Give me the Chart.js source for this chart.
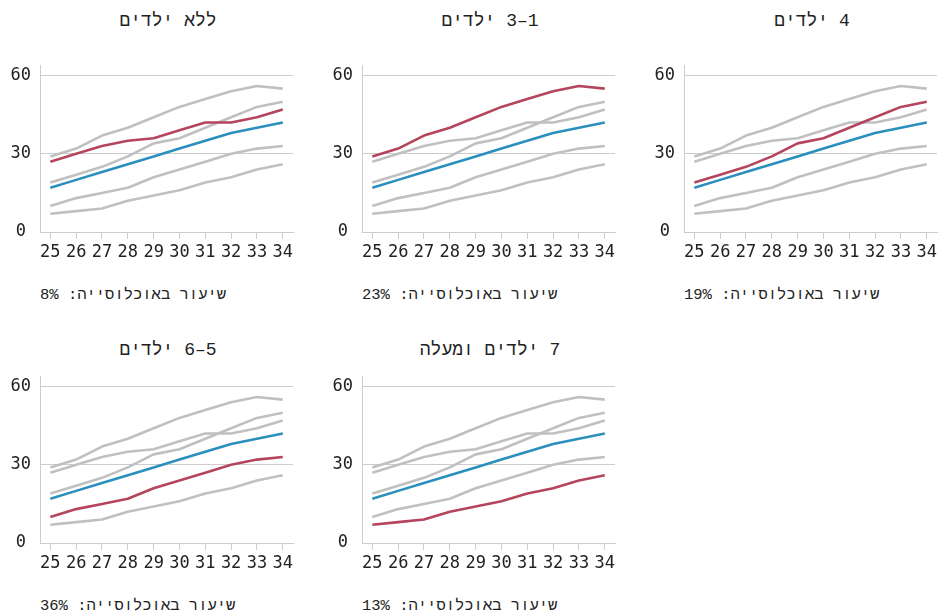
<!DOCTYPE html>
<html lang="he">
<head>
<meta charset="utf-8">
<script src="https://cdn.jsdelivr.net/npm/chart.js@4"></script>
<style>
  body { margin: 0; background: #fff; width: 943px; height: 612px; position: relative; overflow: hidden;
         font-family: 'Liberation Mono', monospace; color: #222; }
  .panel-title { position: absolute; width: 256px; text-align: center; font-size: 18px; line-height: 22px; direction: rtl; }
  .panel-foot { position: absolute; font-size: 15.5px; line-height: 20px; direction: rtl; white-space: nowrap; }
  .panel-canvas { position: absolute; }
</style>
</head>
<body>
<script>
// x axis: age
const years = [25, 26, 27, 28, 29, 30, 31, 32, 33, 34];
const yTicks = [0, 30, 60];

// groups by number of children
const groupTitles = ['ללא ילדים', '1–3 ילדים', '4 ילדים', '5–6 ילדים', '7 ילדים ומעלה'];
const groupShares = ['8%', '23%', '19%', '36%', '13%'];

const noKids = [27, 30, 33, 35, 36, 39, 42, 42, 44, 47];
const kids1to3 = [29, 32, 37, 40, 44, 48, 51, 54, 56, 55];
const kids4 = [19, 22, 25, 29, 34, 36, 40, 44, 48, 50];
const kids5to6 = [10, 13, 15, 17, 21, 24, 27, 30, 32, 33];
const kids7plus = [7, 8, 9, 12, 14, 16, 19, 21, 24, 26];
const average = [17, 20, 23, 26, 29, 32, 35, 38, 40, 42];

const groupSeries = [noKids, kids1to3, kids4, kids5to6, kids7plus];

// layout of the small multiples (left edge of plot area, top of plot area)
const panelPos = [
    { x: 40, top: 64 },
    { x: 362, top: 64 },
    { x: 684, top: 64 },
    { x: 40, top: 375 },
    { x: 362, top: 375 }
];

const RED = '#b5455c';
const BLUE = '#2a8fbd';
const GREY = '#c0c0c0';
const TICK_FONT = "'DejaVu Sans Mono', monospace";

function toPoints(arr) {
    return arr.map((v, i) => ({ x: years[i], y: v }));
}

function makePanel(idx) {
    const pos = panelPos[idx];

    const title = document.createElement('div');
    title.className = 'panel-title';
    title.textContent = groupTitles[idx];
    title.style.left = pos.x + 'px';
    title.style.top = (pos.top - (idx < 3 ? 54 : 36)) + 'px';
    document.body.appendChild(title);

    const foot = document.createElement('div');
    foot.className = 'panel-foot';
    foot.textContent = 'שיעור באוכלוסייה: ' + groupShares[idx];
    foot.style.left = pos.x + 'px';
    foot.style.top = (pos.top + 221) + 'px';
    document.body.appendChild(foot);

    // chart.js keeps ~18px above the plot area, so the canvas starts higher
    const wrap = document.createElement('div');
    wrap.className = 'panel-canvas';
    wrap.style.left = (pos.x - 40) + 'px';
    wrap.style.top = (pos.top - 18) + 'px';
    wrap.style.width = '296px';
    wrap.style.height = '218px';
    const canvas = document.createElement('canvas');
    wrap.appendChild(canvas);
    document.body.appendChild(wrap);

    const datasets = [];
    datasets.push({ data: toPoints(groupSeries[idx]), borderColor: RED, order: 0 });
    datasets.push({ data: toPoints(average), borderColor: BLUE, order: 1 });
    groupSeries.forEach((s, j) => {
        if (j !== idx) datasets.push({ data: toPoints(s), borderColor: GREY, order: 2 });
    });
    datasets.forEach(d => {
        d.borderWidth = 2.6;
        d.pointRadius = 0;
        d.fill = false;
        d.tension = 0;
        d.borderJoinStyle = 'round';
    });

    new Chart(canvas, {
        type: 'line',
        data: { datasets },
        options: {
            responsive: true,
            maintainAspectRatio: false,
            animation: false,
            layout: { padding: 0 },
            plugins: { legend: { display: false }, tooltip: { enabled: false } },
            scales: {
                x: {
                    type: 'linear',
                    min: 24.6,
                    max: 34.4,
                    afterBuildTicks: scale => { scale.ticks = years.map(v => ({ value: v })); },
                    afterFit: scale => { scale.height = 32; },
                    grid: { drawOnChartArea: false, drawTicks: true, tickLength: 7, color: '#cccccc', lineWidth: 1 },
                    border: { display: true, color: '#cccccc', width: 1 },
                    ticks: { color: '#222', font: { family: TICK_FONT, size: 17 }, padding: 3, maxRotation: 0, autoSkip: false }
                },
                y: {
                    min: 0,
                    max: 64,
                    afterBuildTicks: scale => { scale.ticks = yTicks.map(v => ({ value: v })); },
                    afterFit: scale => { scale.width = 40; },
                    grid: { drawTicks: false, color: '#cccccc', lineWidth: 1 },
                    border: { display: true, color: '#cccccc', width: 1 },
                    ticks: { color: '#222', font: { family: TICK_FONT, size: 17 }, padding: 9, crossAlign: 'center' }
                }
            }
        }
    });
}

for (let i = 0; i < groupTitles.length; i++) makePanel(i);
</script>
</body>
</html>
